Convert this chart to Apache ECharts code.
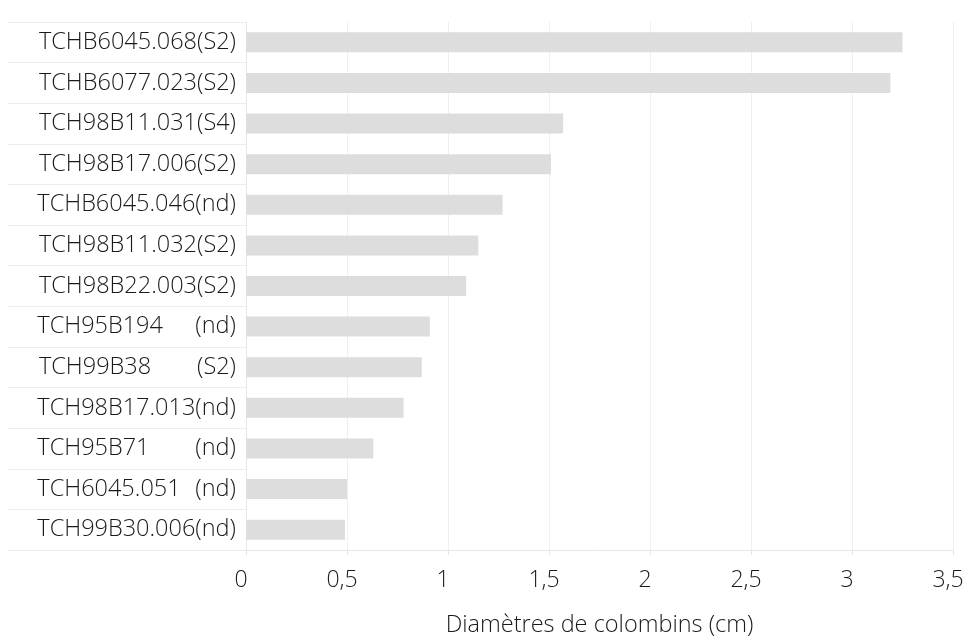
<!DOCTYPE html>
<html>
<head>
<meta charset="utf-8">
<script src="https://cdn.jsdelivr.net/npm/echarts@6/dist/echarts.min.js"></script>
<style>
html,body{margin:0;padding:0;background:#fff;}
#chart{width:967px;height:637px;}
</style>
</head>
<body>
<div id="chart"></div>
<script>
// Data (top to bottom as shown)
var sampleNames = ['TCHB6045.068','TCHB6077.023','TCH98B11.031','TCH98B17.006','TCHB6045.046','TCH98B11.032','TCH98B22.003','TCH95B194','TCH99B38','TCH98B17.013','TCH95B71','TCH6045.051','TCH99B30.006'];
var sampleCodes = ['(S2)','(S2)','(S4)','(S2)','(nd)','(S2)','(S2)','(nd)','(S2)','(nd)','(nd)','(nd)','(nd)'];
var paddedNames = ['TCH95B194','TCH99B38','TCH95B71','TCH6045.051'];
var diameters = [3.25, 3.19, 1.57, 1.51, 1.27, 1.15, 1.09, 0.91, 0.87, 0.78, 0.63, 0.50, 0.49];
var xTicks = [0, 0.5, 1, 1.5, 2, 2.5, 3, 3.5];
var xAxisTitle = 'Diamètres de colombins (cm)';

var FONT = '"Open Sans", sans-serif';
var FS = 23.5;
var FW = 300;
var COL = '#1a1a1a';
var ctx = document.createElement('canvas').getContext('2d');
ctx.font = FW + ' ' + FS + 'px "Open Sans"';
var nameSlot = ctx.measureText('TCH98B17.013').width;

// reversed for category axis (bottom-up)
var cats = sampleNames.map(function(n, i){ return n + '|' + sampleCodes[i]; }).reverse();
var vals = diameters.slice().reverse();

var chart = echarts.init(document.getElementById('chart'));
chart.setOption({
  backgroundColor: '#ffffff',
  animation: false,
  grid: {left: 246, right: 14, top: 22, bottom: 87, containLabel: false, outerBoundsMode: 'none'},
  xAxis: {
    type: 'value', min: 0, max: 3.5, interval: 0.5,
    name: xAxisTitle, nameLocation: 'middle', nameGap: 63,
    nameTextStyle: {fontFamily: FONT, fontWeight: FW, fontSize: FS, color: COL},
    axisLine: {show: true, lineStyle: {color: '#e6e6e6', width: 1}},
    axisTick: {show: true, length: 5, lineStyle: {color: '#e6e6e6'}},
    splitLine: {show: true, lineStyle: {color: '#efefef', width: 1}},
    axisLabel: {fontFamily: FONT, fontWeight: FW, fontSize: 23, color: COL, margin: 19,
      padding: [0, 10, 0, 0],
      formatter: function(v){ return String(v).replace('.', ','); }}
  },
  yAxis: {
    type: 'category', data: cats,
    axisLine: {show: true, lineStyle: {color: '#e6e6e6', width: 1}},
    axisTick: {show: true, length: 238, lineStyle: {color: '#ececec', width: 1}},
    splitLine: {show: false},
    axisLabel: {
      margin: 10, fontFamily: FONT, fontWeight: FW, fontSize: FS, color: COL,
      formatter: function(v){
        var p = v.split('|');
        if (paddedNames.indexOf(p[0]) >= 0) return '{n|' + p[0] + '}{c|' + p[1] + '}';
        return '{c|' + p[0] + p[1] + '}';
      },
      rich: {
        n: {width: nameSlot, align: 'left', fontFamily: FONT, fontWeight: FW, fontSize: FS, color: COL},
        c: {fontFamily: FONT, fontWeight: FW, fontSize: FS, color: COL}
      }
    }
  },
  series: [{
    type: 'bar', data: vals, barWidth: 20,
    itemStyle: {color: '#dcdddc'},
    emphasis: {disabled: true}
  }]
});
</script>
</body>
</html>
